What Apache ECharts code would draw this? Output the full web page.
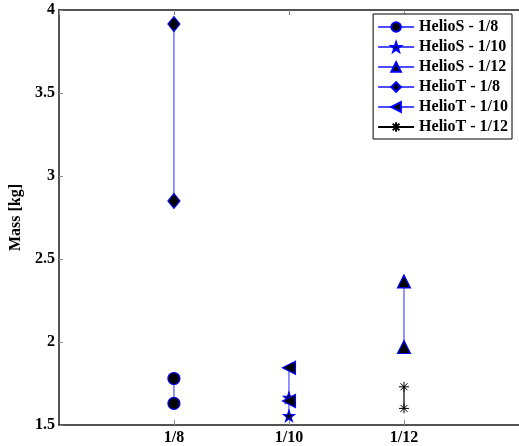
<!DOCTYPE html>
<html><head><meta charset="utf-8">
<script src="https://cdn.jsdelivr.net/npm/echarts@6/dist/echarts.min.js"></script>
<style>html,body{margin:0;padding:0;background:#fff}#c{width:519px;height:446px}</style>
</head><body><div id="c"></div>
<script>
const categories = ['1/8', '1/10', '1/12'];
const seriesNames = ['HelioS - 1/8', 'HelioS - 1/10', 'HelioS - 1/12', 'HelioT - 1/8', 'HelioT - 1/10', 'HelioT - 1/12'];
const heliosS_8 = [1.78, 1.63];
const heliosS_10 = [1.665, 1.555];
const heliosS_12 = [2.365, 1.97];
const heliosT_8 = [3.915, 2.85];
const heliosT_10 = [1.845, 1.645];
const heliosT_12 = [1.73, 1.60];
const yTicks = [1.5, 2, 2.5, 3, 3.5, 4];

const STAR = 'path://M0,-10L2.35,-3.24L9.51,-3.09L3.8,1.24L5.88,8.09L0,4L-5.88,8.09L-3.8,1.24L-9.51,-3.09L-2.35,-3.24Z';
const AST = 'path://M0,-10L0,10M-10,0L10,0M-7,-7L7,7M-7,7L7,-7';
const font = '"Liberation Serif","Times New Roman",serif';

function mk(name, catIdx, vals, symbol, size, opts) {
  opts = opts || {};
  return {
    name: name, type: 'line',
    data: vals.map(v => [catIdx + 1, v]),
    symbol: symbol, symbolSize: size, symbolRotate: opts.rot || 0,
    showAllSymbol: true,
    lineStyle: { color: opts.lineColor || '#4d4dff', width: 1.2 },
    itemStyle: { color: opts.fill || '#000', borderColor: opts.border || '#0000ff', borderWidth: opts.bw == null ? 1.2 : opts.bw },
    emphasis: { disabled: true },
    animation: false
  };
}

const chart = echarts.init(document.getElementById('c'), null, { renderer: 'canvas' });
chart.setOption({
  animation: false,
  backgroundColor: '#fff',
  grid: { left: 52, right: -3, top: 10, bottom: 21, containLabel: false },
  legend: {
    orient: 'vertical', right: 7, top: 14,
    backgroundColor: '#fff', borderColor: '#000', borderWidth: 1,
    padding: [5, 4, 4, 4], itemGap: 4, itemWidth: 36, itemHeight: 12,
    textStyle: { fontFamily: font, fontWeight: 'bold', fontSize: 16, color: '#000' },
    data: seriesNames
  },
  xAxis: [{
    type: 'value', min: 0, max: 4, interval: 1,
    axisLine: { show: true, lineStyle: { color: '#1a1a1a', width: 1.5 } },
    axisTick: { show: true, inside: true, length: 5, lineStyle: { color: '#888', width: 1 } },
    splitLine: { show: false },
    axisLabel: {
      margin: 5, fontFamily: font, fontWeight: 'bold', fontSize: 16, color: '#000',
      formatter: v => (v >= 1 && v <= 3 && Number.isInteger(v)) ? categories[v - 1] : '',
      showMinLabel: false, showMaxLabel: false
    }
  }, {
    type: 'value', min: 0, max: 4, interval: 1, position: 'top',
    axisLine: { show: true, lineStyle: { color: '#1a1a1a', width: 1.5 } },
    axisTick: { show: true, inside: true, length: 5, lineStyle: { color: '#888', width: 1 } },
    splitLine: { show: false }, axisLabel: { show: false }
  }],
  yAxis: [{
    type: 'value', min: yTicks[0], max: yTicks[yTicks.length - 1], interval: 0.5,
    name: 'Mass [kg]', nameLocation: 'middle', nameGap: 31,
    nameTextStyle: { fontFamily: font, fontWeight: 'bold', fontSize: 16, color: '#000' },
    axisLine: { show: true, lineStyle: { color: '#1a1a1a', width: 1.5 } },
    axisTick: { show: true, inside: true, length: 4, lineStyle: { color: '#888', width: 1 } },
    splitLine: { show: false },
    axisLabel: { margin: 4, fontFamily: font, fontWeight: 'bold', fontSize: 16, color: '#000' }
  }],
  series: [
    mk(seriesNames[0], 0, heliosS_8, 'circle', 12),
    mk(seriesNames[1], 1, heliosS_10, STAR, 11),
    mk(seriesNames[2], 2, heliosS_12, 'triangle', 13),
    mk(seriesNames[3], 0, heliosT_8, 'diamond', [12, 15]),
    mk(seriesNames[4], 1, heliosT_10, 'triangle', 13, { rot: 90 }),
    mk(seriesNames[5], 2, heliosT_12, AST, 10, { lineColor: '#000', fill: 'none', border: '#000', bw: 1 })
  ]
});
</script></body></html>
